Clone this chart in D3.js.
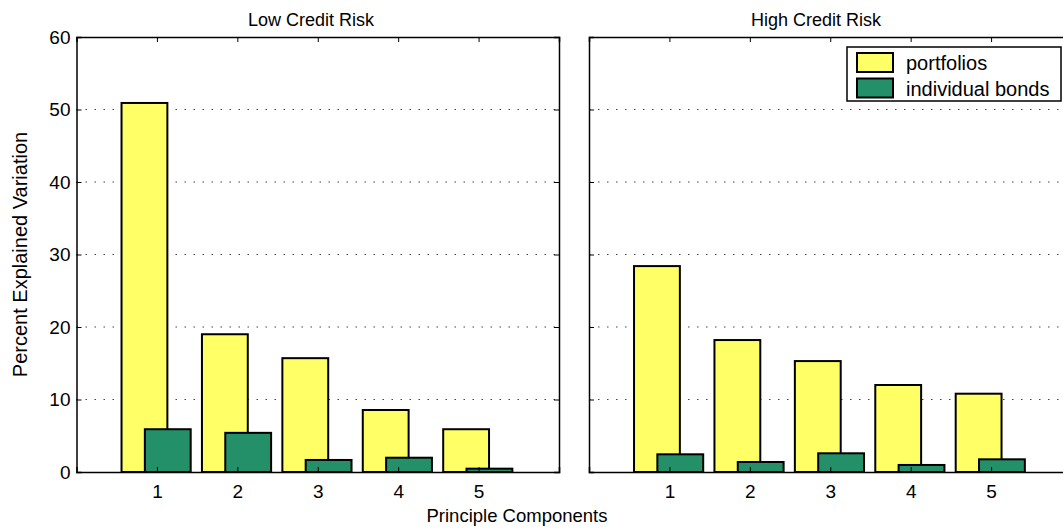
<!DOCTYPE html>
<html>
<head>
<meta charset="utf-8">
<script src="https://cdn.jsdelivr.net/npm/d3@7"></script>
<style>
  body { margin: 0; background: #fff; }
  text { font-family: "Liberation Sans", Arial, sans-serif; fill: #000; }
</style>
</head>
<body>
<div id="wrapper"></div>
<script>
const components = [1, 2, 3, 4, 5];
const lowPortfolios = [50.9, 19.0, 15.7, 8.55, 5.9];
const lowBonds = [5.9, 5.4, 1.66, 1.97, 0.46];
const highPortfolios = [28.4, 18.2, 15.3, 12.0, 10.8];
const highBonds = [2.44, 1.38, 2.58, 0.97, 1.75];
const yTicks = [0, 10, 20, 30, 40, 50, 60];
const seriesNames = ["portfolios", "individual bonds"];
const panelTitles = ["Low Credit Risk", "High Credit Risk"];

const yellow = "#ffff66";
const green = "#23906a";

const dimensions = {
  width: 1063,
  height: 529,
  top: 37,
  bottom: 472,
  panelWidth: 482.5,
  panelLefts: [76.5, 589],
}

const svg = d3.select("#wrapper").append("svg")
  .attr("width", dimensions.width)
  .attr("height", dimensions.height);

const yScale = d3.scaleLinear()
  .domain([0, 60])
  .range([dimensions.bottom, dimensions.top]);

function drawPanel(left, portfolios, bonds, title, showYLabels, titleX) {
  const xScale = d3.scaleLinear()
    .domain([0, 6])
    .range([left, left + dimensions.panelWidth]);

  const g = svg.append("g");

  // dotted grid
  g.append("g").selectAll("line")
    .data(yTicks.filter(d => d > 0 && d < 60))
    .join("line")
    .attr("x1", xScale(0)).attr("x2", xScale(6))
    .attr("y1", d => yScale(d)).attr("y2", d => yScale(d))
    .attr("stroke", "#444")
    .attr("stroke-width", 1.2)
    .attr("stroke-dasharray", "1.5,7.5");

  // bars
  g.append("g").selectAll("rect")
    .data(portfolios)
    .join("rect")
    .attr("x", (d, i) => xScale(components[i] - 0.44))
    .attr("width", xScale(0.57) - xScale(0))
    .attr("y", d => yScale(d))
    .attr("height", d => yScale(0) - yScale(d))
    .attr("fill", yellow)
    .attr("stroke", "#000")
    .attr("stroke-width", 2);

  g.append("g").selectAll("rect")
    .data(bonds)
    .join("rect")
    .attr("x", (d, i) => xScale(components[i] - 0.15))
    .attr("width", xScale(0.57) - xScale(0))
    .attr("y", d => yScale(d))
    .attr("height", d => yScale(0) - yScale(d))
    .attr("fill", green)
    .attr("stroke", "#000")
    .attr("stroke-width", 2);

  // axes box with inner ticks
  const xAxisBottom = d3.axisBottom(xScale).tickValues(components).tickSize(-5).tickPadding(13).tickFormat(d3.format("d"));
  const xAxisTop = d3.axisTop(xScale).tickValues(components).tickSize(-5).tickFormat("");
  const yAxisLeft = d3.axisLeft(yScale).tickValues(yTicks).tickSize(-5).tickPadding(6).tickFormat(d3.format("d"));
  const yAxisRight = d3.axisRight(yScale).tickValues(yTicks).tickSize(-5).tickFormat("");

  const axes = [
    g.append("g").attr("transform", `translate(0,${dimensions.bottom})`).call(xAxisBottom),
    g.append("g").attr("transform", `translate(0,${dimensions.top})`).call(xAxisTop),
    g.append("g").attr("transform", `translate(${xScale(0)},0)`).call(yAxisLeft),
    g.append("g").attr("transform", `translate(${xScale(6)},0)`).call(yAxisRight),
  ];
  axes.forEach(a => {
    a.attr("font-size", null).attr("font-family", null);
    a.select(".domain").attr("stroke", "#000").attr("stroke-width", 1.5);
    a.selectAll(".tick line").attr("stroke", "#000");
    a.selectAll("text").style("font-size", "19px").attr("fill", "#000");
  });
  if (!showYLabels) axes[2].selectAll("text").remove();

  g.append("text")
    .attr("x", titleX)
    .attr("y", 26)
    .attr("text-anchor", "middle")
    .style("font-size", "18px")
    .text(title);

  return xScale;
}

drawPanel(dimensions.panelLefts[0], lowPortfolios, lowBonds, panelTitles[0], true, 311);
drawPanel(dimensions.panelLefts[1], highPortfolios, highBonds, panelTitles[1], false, 816);

// axis labels
svg.append("text")
  .attr("x", 517)
  .attr("y", 522)
  .attr("text-anchor", "middle")
  .style("font-size", "18.5px")
  .text("Principle Components");

svg.append("text")
  .attr("transform", `translate(27,${(dimensions.top + dimensions.bottom) / 2}) rotate(-90)`)
  .attr("text-anchor", "middle")
  .style("font-size", "20px")
  .text("Percent Explained Variation");

// legend
const legend = svg.append("g").attr("transform", "translate(847,47)");
legend.append("rect")
  .attr("width", 214).attr("height", 54)
  .attr("fill", "#fff").attr("stroke", "#000").attr("stroke-width", 1.5);
const legendItems = legend.selectAll("g.item")
  .data(seriesNames)
  .join("g")
  .attr("class", "item")
  .attr("transform", (d, i) => `translate(10,${6 + i * 25.5})`);
legendItems.append("rect")
  .attr("width", 36).attr("height", 19)
  .attr("fill", (d, i) => i === 0 ? yellow : green)
  .attr("stroke", "#000").attr("stroke-width", 2);
legendItems.append("text")
  .attr("x", 49).attr("y", 17)
  .style("font-size", "20px")
  .text(d => d);
</script>
</body>
</html>
